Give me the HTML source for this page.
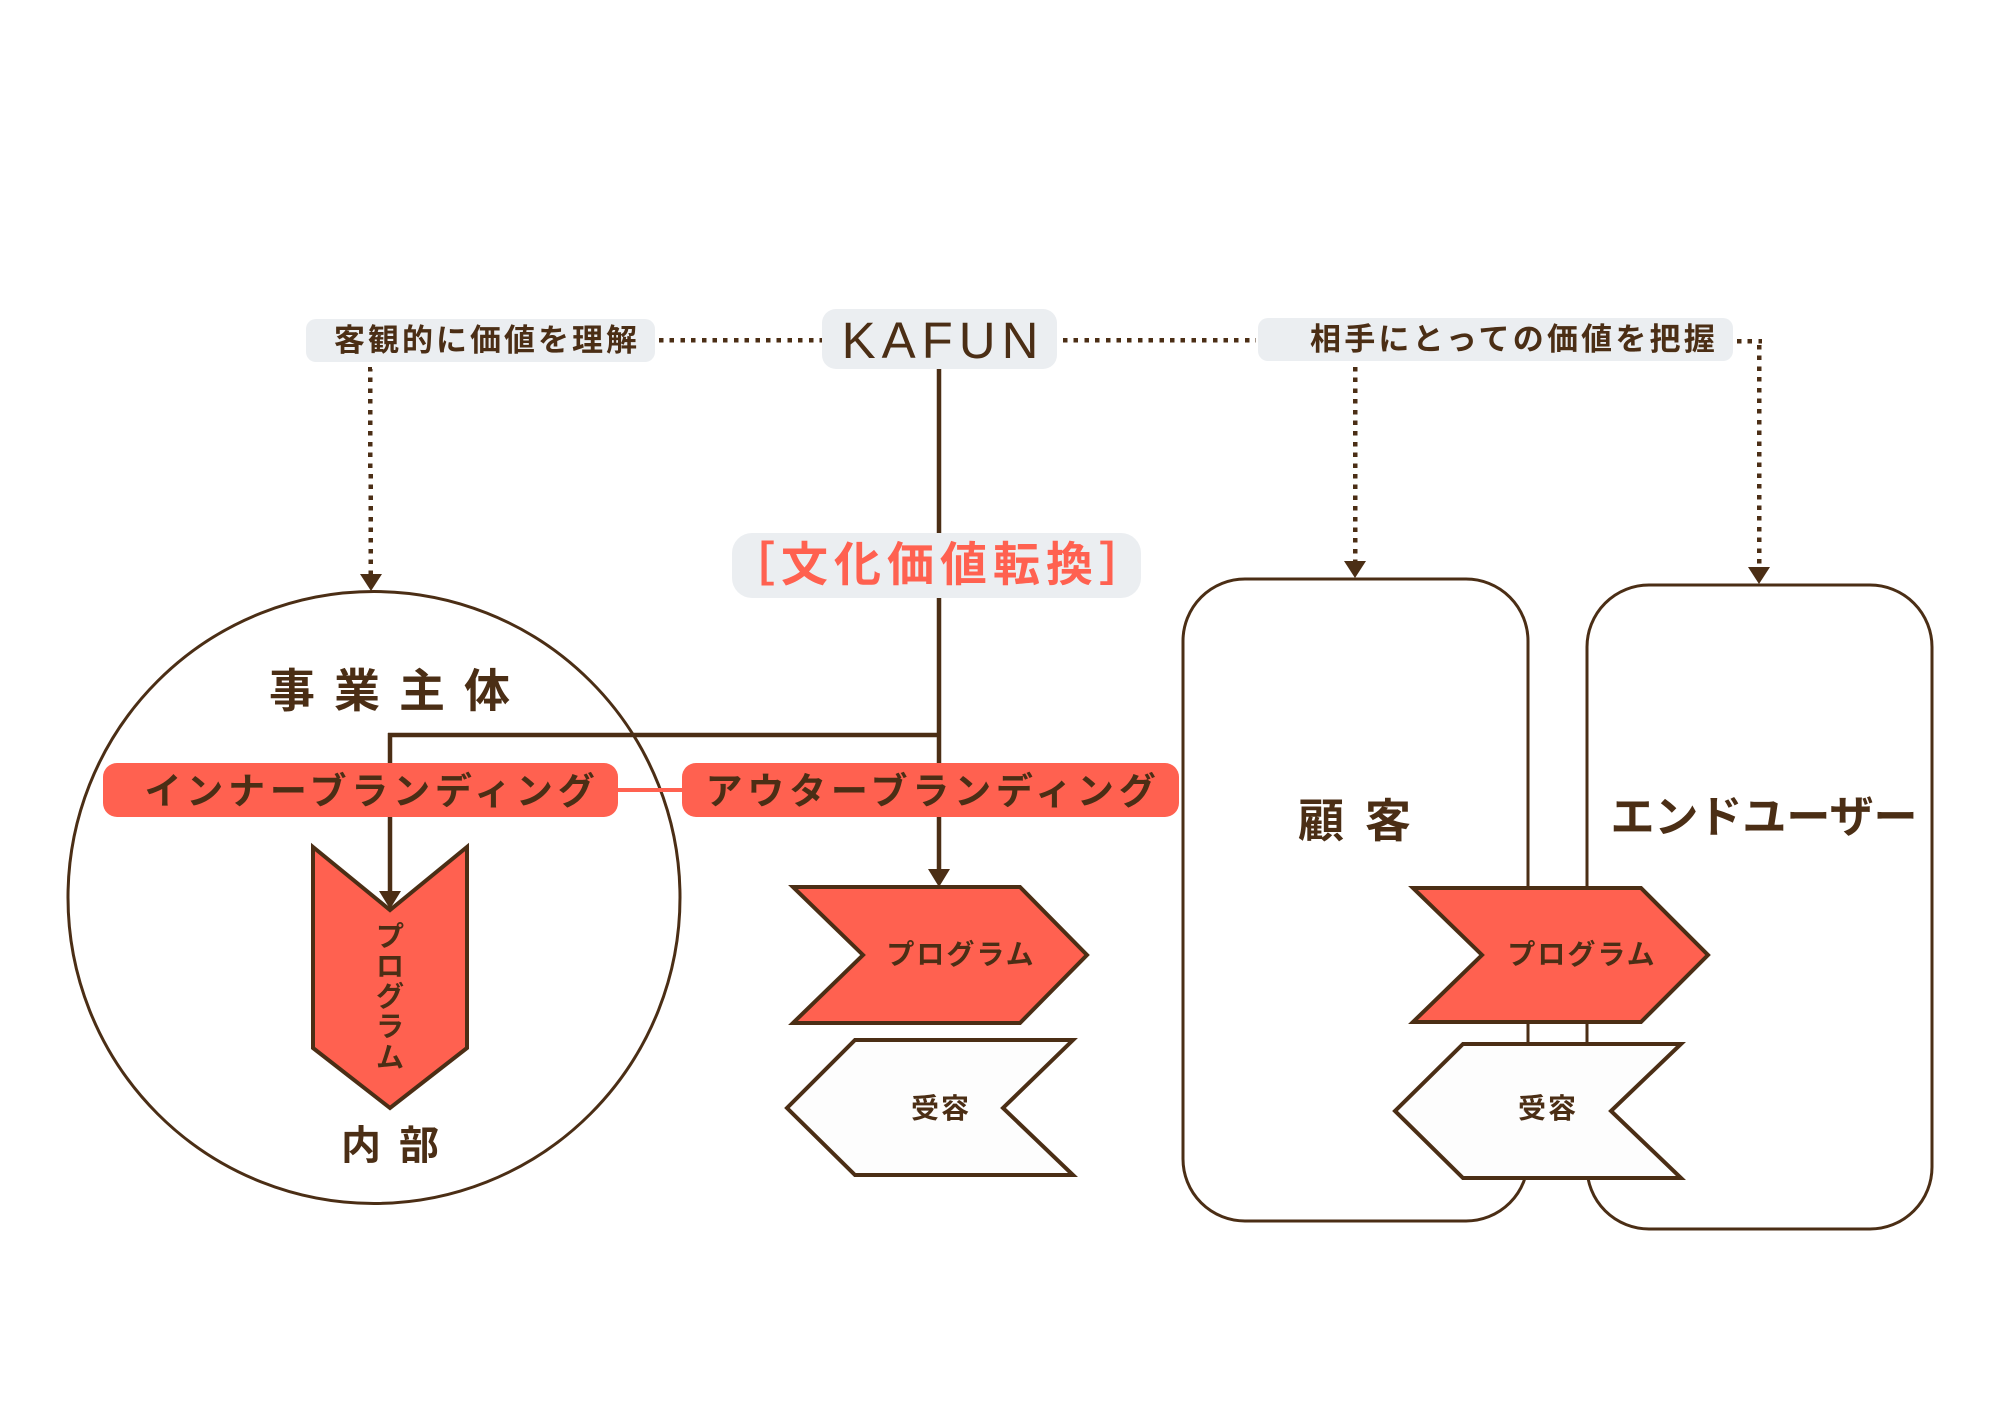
<!DOCTYPE html>
<html lang="ja">
<head>
<meta charset="utf-8">
<style>
  html,body{margin:0;padding:0;background:#ffffff;}
  body{width:2000px;height:1414px;overflow:hidden;}
  svg{display:block;}
  .jp{font-family:"Liberation Sans","Noto Sans CJK JP",sans-serif;font-weight:700;}
</style>
</head>
<body>
<svg width="2000" height="1414" viewBox="0 0 2000 1414" xmlns="http://www.w3.org/2000/svg">
  <rect x="0" y="0" width="2000" height="1414" fill="#ffffff"/>

  <!-- Circle -->
  <circle cx="374" cy="897.5" r="306" fill="#ffffff" stroke="#4b2e15" stroke-width="3"/>

  <!-- Right boxes -->
  <rect x="1183" y="579" width="345" height="642" rx="62" ry="62" fill="#ffffff" stroke="#4b2e15" stroke-width="3"/>
  <rect x="1587" y="585" width="345" height="644" rx="62" ry="62" fill="#ffffff" stroke="#4b2e15" stroke-width="3"/>

  <!-- Dotted connectors -->
  <g stroke="#4b2e15" stroke-width="4.5" stroke-dasharray="4.5 6.2" fill="none" shape-rendering="crispEdges">
    <line x1="659" y1="340" x2="822" y2="340"/>
    <line x1="1063" y1="340" x2="1256" y2="340"/>
    <line x1="1737" y1="341" x2="1762" y2="341"/>
    <line x1="1759" y1="345" x2="1759" y2="570"/>
    <line x1="370" y1="367" x2="371" y2="577"/>
    <line x1="1355" y1="367" x2="1355" y2="564"/>
  </g>
  <g fill="#4b2e15">
    <polygon points="1748,567 1770,567 1759,584"/>
    <polygon points="360,574 382,574 371,591"/>
    <polygon points="1344,561 1366,561 1355,578"/>
  </g>

  <!-- Solid connectors -->
  <g stroke="#4b2e15" stroke-width="4.5" fill="none">
    <line x1="939" y1="369" x2="939" y2="872"/>
    <line x1="388" y1="735" x2="941" y2="735"/>
    <line x1="390" y1="733" x2="390" y2="895"/>
  </g>
  <g fill="#4b2e15">
    <polygon points="928,869 950,869 939,887"/>
    <polygon points="379,891 401,891 390,909"/>
  </g>

  <!-- coral connector between pills -->
  <line x1="616" y1="790" x2="684" y2="790" stroke="#ff6150" stroke-width="4"/>

  <!-- Label boxes -->
  <rect x="306" y="319" width="349" height="43" rx="10" ry="10" fill="#ebeef1"/>
  <rect x="822" y="309" width="235" height="60" rx="14" ry="14" fill="#ebeef1"/>
  <rect x="1258" y="318" width="475" height="43" rx="10" ry="10" fill="#ebeef1"/>
  <rect x="732" y="533" width="409" height="65" rx="20" ry="20" fill="#ebeef1"/>

  <!-- Pills -->
  <rect x="103" y="763" width="515" height="54" rx="14" ry="14" fill="#ff6150"/>
  <rect x="682" y="763" width="497" height="54" rx="14" ry="14" fill="#ff6150"/>

  <!-- Chevrons -->
  <g stroke="#4b2e15" stroke-width="4" stroke-linejoin="miter">
    <polygon points="313,847 390,910 467,847 467,1048 390,1108 313,1048" fill="#ff6150"/>
    <polygon points="793,887 1020,887 1087,955 1020,1023 793,1023 863,955" fill="#ff6150"/>
    <polygon points="855,1040 1073,1040 1003,1108 1073,1175 855,1175 787,1108" fill="#fdfdfd"/>
    <polygon points="1413,888 1641,888 1708,955 1641,1022 1413,1022 1482,955" fill="#ff6150"/>
    <polygon points="1463,1044 1681,1044 1611,1111 1681,1178 1463,1178 1395,1111" fill="#fdfdfd"/>
  </g>

  <!-- Texts -->
  <g fill="#4b2e15" text-anchor="middle">
    <text class="jp" x="487" y="351" font-size="31" letter-spacing="3">客観的に価値を理解</text>
    <text class="jp" x="1514" y="350" font-size="31" letter-spacing="3.2">相手にとっての価値を把握</text>
    <text x="943" y="358" font-size="51" letter-spacing="6" style="font-family:'Liberation Sans',sans-serif;font-weight:400;">KAFUN</text>

    <text class="jp" x="399" y="707" font-size="46" letter-spacing="19">事業主体</text>
    <text class="jp" x="372" y="804" font-size="37" letter-spacing="4.8">インナーブランディング</text>
    <text class="jp" x="933" y="804" font-size="37" letter-spacing="4.8">アウターブランディング</text>

    <text class="jp" x="390" y="946" font-size="28">プ</text>
    <text class="jp" x="390" y="976" font-size="28">ロ</text>
    <text class="jp" x="390" y="1006" font-size="28">グ</text>
    <text class="jp" x="390" y="1036" font-size="28">ラ</text>
    <text class="jp" x="390" y="1067" font-size="28">ム</text>

    <text class="jp" x="399" y="1159" font-size="40" letter-spacing="18">内部</text>

    <text class="jp" x="961" y="964" font-size="28" letter-spacing="2">プログラム</text>
    <text class="jp" x="941" y="1118" font-size="28" letter-spacing="2">受容</text>

    <text class="jp" x="1365" y="837" font-size="46" letter-spacing="21">顧客</text>
    <text class="jp" x="1764" y="832" font-size="44">エンドユーザー</text>

    <text class="jp" x="1582" y="964" font-size="28" letter-spacing="2">プログラム</text>
    <text class="jp" x="1548" y="1118" font-size="28" letter-spacing="2">受容</text>
  </g>
  <text class="jp" x="940" y="581" font-size="47" letter-spacing="6" text-anchor="middle" fill="#ff6150">［文化価値転換］</text>
</svg>
</body>
</html>
